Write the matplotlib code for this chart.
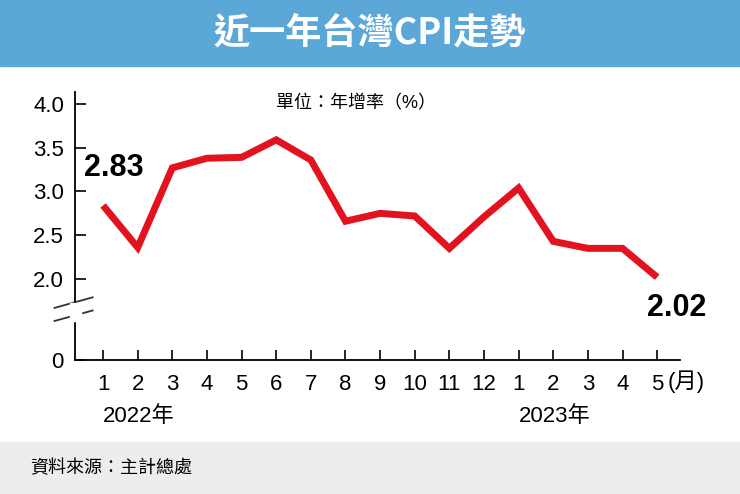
import matplotlib
matplotlib.use("Agg")
import matplotlib.pyplot as plt
from matplotlib.patches import Rectangle

plt.rcParams['font.family'] = ['Liberation Sans', 'Noto Sans CJK TC', 'DejaVu Sans']

# data
months = ["1", "2", "3", "4", "5", "6", "7", "8", "9", "10", "11", "12", "1", "2", "3", "4", "5"]
cpi = [2.84, 2.36, 3.27, 3.38, 3.39, 3.59, 3.36, 2.66, 2.75, 2.72, 2.35, 2.71, 3.04, 2.43, 2.35, 2.35, 2.02]
y_ticks = [2.0, 2.5, 3.0, 3.5, 4.0]
zero_pos = 1.074  # where the broken axis puts 0

fig = plt.figure(figsize=(7.4, 4.94), dpi=100)
fig.patch.set_facecolor("white")

# title banner and source strip
fig.add_artist(Rectangle((0, 1 - 66/494), 1, 66/494, transform=fig.transFigure, color="#5ba8d8", zorder=0))
fig.text(0.5, 1 - 33/494, "近一年台灣CPI走勢", ha="center", va="center", color="white",
         fontsize=26, fontweight="bold", family=['Noto Sans CJK TC', 'DejaVu Sans'])
fig.add_artist(Rectangle((0, 0), 1, 52/494, transform=fig.transFigure, color="#ededed", zorder=0))
fig.text(30/740, 26/494, "資料來源：主計總處", ha="left", va="center", fontsize=13,
         family=['Noto Sans CJK TC', 'DejaVu Sans'])

ax = fig.add_axes([75/740, 1 - 360/494, 605/740, 268/494])
x = list(range(len(cpi)))
ax.plot(x, cpi, color="#e3121f", lw=5, solid_capstyle="butt", solid_joinstyle="miter")
ax.set_xlim(-0.81, 16.66)
ax.set_ylim(zero_pos, 4.137)

ax.set_yticks(y_ticks + [zero_pos])
ax.set_yticklabels([f"{v:.1f}" for v in y_ticks] + ["0"], fontsize=16)
ax.set_xticks(x)
ax.set_xticklabels(months, fontsize=16)
ax.tick_params(axis="y", direction="in", length=8, width=1.2, pad=8)
ax.tick_params(axis="x", direction="in", length=7, width=1.2, pad=10)
for s in ["top", "right"]:
    ax.spines[s].set_visible(False)
for s in ["left", "bottom"]:
    ax.spines[s].set_linewidth(1.3)

# axis break marks
for yb in [1.58, 1.73]:
    ax.plot([-1.4, -0.3], [yb - 0.06, yb + 0.06], color="#333333", lw=1.3, clip_on=False)
ax.add_artist(Rectangle((-0.95, 1.52), 0.3, 0.2, color="white", clip_on=False, zorder=3))

ax.text(16.3, -0.037, "(月)", transform=ax.get_xaxis_transform(), fontsize=16, ha="left", va="top")
ax.text(0, -0.17, "2022年", transform=ax.get_xaxis_transform(), fontsize=16, ha="left", va="top")
ax.text(12, -0.17, "2023年", transform=ax.get_xaxis_transform(), fontsize=16, ha="left", va="top")
ax.text(5, 4.0, "單位：年增率（%）", fontsize=13, ha="left", va="center")

ax.text(-0.55, 3.27, "2.83", fontsize=22, fontweight="bold", ha="left", va="center")
ax.text(16.55, 1.67, "2.02", fontsize=22, fontweight="bold", ha="center", va="center")

fig.savefig("out.png", dpi=100)
